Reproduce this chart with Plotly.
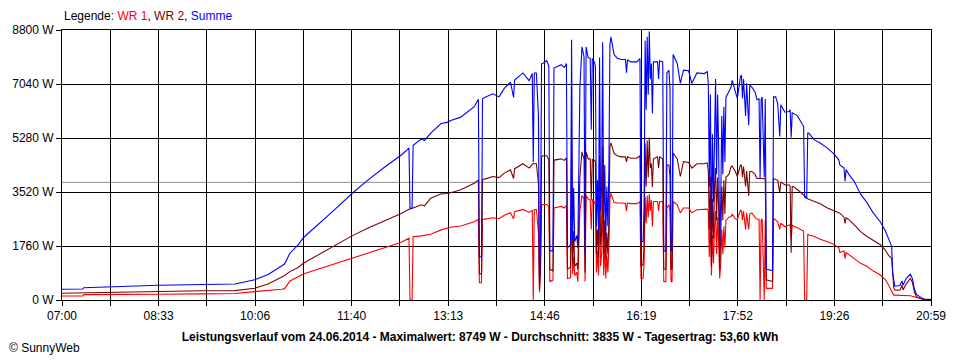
import plotly.graph_objects as go

# ---- data (time, WR 1, WR 2, Summe in W) ----
times = [
    "07:00", "07:20", "07:21", "07:48", "08:33", "09:15", "09:47", "10:06", "10:19", "10:32",
    "10:35", "10:40", "10:48", "10:53", "11:07", "11:23", "11:40", "11:55", "12:11", "12:27",
    "12:35", "12:36", "12:38", "12:39", "12:47", "12:50", "12:56", "13:06", "13:12", "13:16",
    "13:25", "13:38", "13:42", "13:43", "13:45", "13:46", "13:48", "13:56", "14:02", "14:07",
    "14:13", "14:16", "14:17", "14:25", "14:31", "14:34", "14:35", "14:36", "14:38", "14:40",
    "14:41", "14:42", "14:43", "14:44", "14:48", "14:50", "14:51", "14:54", "14:55", "15:02",
    "15:05", "15:07", "15:08", "15:11", "15:12", "15:13", "15:14", "15:15", "15:17", "15:18",
    "15:20", "15:22", "15:24", "15:25", "15:26", "15:28", "15:30", "15:31", "15:32", "15:34",
    "15:35", "15:36", "15:37", "15:38", "15:39", "15:40", "15:41", "15:42", "15:43", "15:44",
    "15:45", "15:46", "15:47", "15:48", "15:49", "15:50", "15:53", "15:56", "16:00", "16:04",
    "16:05", "16:06", "16:09", "16:15", "16:18", "16:19", "16:21", "16:22", "16:23", "16:24",
    "16:25", "16:26", "16:27", "16:28", "16:29", "16:30", "16:31", "16:35", "16:36", "16:37",
    "16:40", "16:41", "16:43", "16:44", "16:46", "16:47", "16:48", "16:49", "16:50", "16:54",
    "16:57", "17:00", "17:05", "17:08", "17:13", "17:20", "17:23", "17:24", "17:25", "17:26",
    "17:27", "17:28", "17:29", "17:30", "17:31", "17:32", "17:33", "17:34", "17:35", "17:36",
    "17:37", "17:38", "17:39", "17:40", "17:41", "17:44", "17:46", "17:47", "17:50", "17:52",
    "17:55", "17:56", "17:57", "17:58", "18:00", "18:01", "18:03", "18:04", "18:06", "18:09",
    "18:11", "18:13", "18:14", "18:15", "18:16", "18:18", "18:19", "18:20", "18:26", "18:27",
    "18:29", "18:31", "18:33", "18:34", "18:38", "18:42", "18:43", "18:44", "18:45", "18:46",
    "18:50", "18:53", "18:56", "18:57", "18:59", "19:00", "19:01", "19:06", "19:12", "19:19",
    "19:25", "19:30", "19:31", "19:35", "19:36", "19:37", "19:40", "19:45", "19:51", "19:57",
    "20:03", "20:10", "20:15", "20:18", "20:21", "20:22", "20:23", "20:24", "20:29", "20:31",
    "20:32", "20:35", "20:39", "20:41", "20:43", "20:45", "20:50", "20:53", "20:59",
]

wr1_w = [
    130, 130, 174, 174, 185, 200, 210, 272, 300, 349,
    370, 620, 760, 849, 1000, 1175, 1360, 1525, 1709, 1872,
    2014, 0, 0, 2060, 2090, 2110, 2144, 2285, 2340, 2380,
    2410, 2550, 2627, 560, 560, 2630, 2637, 2680, 2650, 2760,
    2843, 2640, 2880, 2952, 2855, 2930, 0, 2950, 2950, 2200,
    250, 1000, 3050, 3115, 3115, 3050, 600, 650, 3000, 3050,
    3000, 3080, 700, 720, 3400, 850, 1400, 800, 900, 600,
    2900, 3400, 3300, 600, 3400, 3300, 3250, 2300, 3280, 3200,
    3100, 900, 1600, 800, 3200, 1100, 1500, 3400, 800, 1800,
    700, 1500, 900, 1700, 3300, 3475, 3180, 3160, 3160, 3150,
    2900, 3160, 3140, 3140, 3200, 700, 700, 1200, 3350, 2500,
    3400, 2700, 3450, 2900, 3260, 2400, 3210, 3210, 2900, 3210,
    3200, 600, 600, 3000, 3100, 2900, 600, 600, 3210, 3100,
    2840, 3000, 3000, 2840, 2940, 2950, 2960, 2900, 1400, 2700,
    800, 2100, 1200, 2400, 2900, 1500, 2700, 1900, 700, 1200,
    2300, 1500, 2400, 1700, 2600, 2700, 2720, 2800, 2650, 2610,
    2940, 2900, 2600, 2900, 2300, 2840, 2300, 2800, 2840, 2700,
    2630, 2630, 0, 2600, 2650, 0, 2600, 380, 380, 2660,
    2600, 2550, 2300, 2500, 2395, 2420, 2450, 2000, 2440, 2420,
    2350, 2285, 2250, 0, 0, 2150, 2120, 2080, 1980, 1900,
    1820, 1700, 1550, 1600, 1350, 1550, 1470, 1350, 1195, 1100,
    950, 815, 660, 490, 270, 200, 160, 160, 160, 160,
    160, 160, 140, 120, 100, 80, 40, 10, 5,
]

wr2_w = [
    218, 230, 230, 260, 290, 300, 305, 381, 522, 760,
    800, 925, 1060, 1197, 1469, 1763, 2090, 2340, 2579, 2808,
    2961, 2961, 2980, 3000, 3102, 3070, 3320, 3460, 3470, 3504,
    3590, 3808, 3916, 850, 850, 3930, 3940, 4025, 3990, 4135,
    4243, 3960, 4280, 4440, 4298, 4420, 4450, 4440, 4440, 3800,
    350, 1050, 4650, 4700, 4700, 4570, 1000, 950, 4560, 4600,
    4550, 4630, 1000, 1080, 5080, 1200, 2250, 1100, 1200, 1000,
    4000, 4830, 4600, 900, 4830, 4600, 4600, 3250, 4580, 4560,
    4500, 1500, 2300, 1400, 4700, 1800, 2200, 5000, 1500, 2600,
    1300, 2200, 1500, 2500, 5000, 5120, 4775, 4700, 4665, 4665,
    4500, 4665, 4620, 4620, 4700, 1100, 1150, 1800, 5100, 3700,
    5200, 4000, 5299, 4300, 4450, 3680, 4600, 4665, 4300, 4665,
    4600, 1000, 1000, 4400, 4400, 4000, 1000, 1000, 4790, 4600,
    4025, 4510, 4480, 4300, 4440, 4440, 4470, 4200, 2300, 4000,
    1100, 3300, 2000, 3700, 4300, 2600, 4000, 3000, 1000, 2000,
    3700, 2600, 3900, 2800, 4000, 4100, 4350, 4360, 4200, 4025,
    4400, 4400, 4000, 4350, 3700, 4200, 3400, 4190, 4190, 4100,
    3960, 3960, 3960, 3950, 3970, 3970, 3950, 660, 600, 3960,
    3920, 3900, 3500, 3850, 3750, 3750, 3700, 1540, 3700, 3700,
    3600, 3500, 3430, 3400, 3320, 3300, 3280, 3210, 3140, 3000,
    2915, 2850, 2830, 2700, 2500, 2680, 2610, 2450, 2230, 2080,
    1950, 1800, 1630, 1450, 1360, 700, 400, 330, 320, 480,
    330, 520, 700, 580, 250, 110, 30, 10, 10,
]

summe_w = [
    350, 360, 400, 435, 480, 505, 520, 660, 830, 1110,
    1180, 1525, 1800, 2030, 2449, 2939, 3470, 3900, 4320, 4710,
    4950, 2990, 3000, 5040, 5250, 5200, 5442, 5753, 5790, 5860,
    5960, 6300, 6540, 1410, 1410, 6560, 6600, 6720, 6620, 6895,
    7100, 6600, 7170, 7400, 7150, 7380, 4500, 7400, 7400, 6000,
    600, 2050, 7700, 7710, 7800, 7620, 1600, 1600, 7560, 7670,
    7580, 7710, 1700, 1800, 8480, 2000, 3650, 1900, 2100, 1700,
    6900, 8250, 7930, 1530, 8250, 7900, 7870, 5550, 7870, 7760,
    7600, 2400, 3900, 2200, 7900, 2900, 3700, 8400, 2300, 4400,
    2000, 3700, 2400, 4200, 8300, 8580, 8000, 7880, 7840, 7840,
    7410, 7830, 7760, 7760, 7870, 1900, 1900, 3000, 8450, 6200,
    8580, 6700, 8749, 7200, 7710, 6080, 7760, 7760, 7200, 7800,
    7760, 1600, 1600, 7400, 7490, 6900, 1600, 1600, 8000, 7710,
    7060, 7490, 7470, 7060, 7400, 7380, 7440, 7060, 3700, 6700,
    1800, 5400, 3200, 6100, 7200, 4100, 6700, 4900, 1700, 3200,
    6000, 4100, 6300, 4500, 6600, 6800, 6940, 7160, 6850, 6570,
    7270, 7330, 6570, 7200, 6000, 7060, 5700, 7000, 6940, 6790,
    6530, 6560, 3960, 6530, 6620, 4000, 6550, 1000, 960, 6620,
    6620, 6400, 5330, 6360, 6120, 6140, 6200, 5300, 6100, 6090,
    6000, 5830, 5660, 3350, 3320, 5440, 5440, 5225, 5115, 4950,
    4770, 4570, 4400, 4300, 3870, 4250, 4080, 3860, 3450, 3180,
    2850, 2550, 2250, 2000, 1750, 900, 560, 450, 470, 620,
    480, 700, 840, 700, 350, 180, 70, 20, 20,
]

x_tick_labels = ["07:00", "08:33", "10:06", "11:40", "13:13",
                 "14:46", "16:19", "17:52", "19:26", "20:59"]
y_ticks_w = [0, 1760, 3520, 5280, 7040, 8800]
average_w = 3835
series_names = ["WR 1", "WR 2", "Summe"]
series_colors = ["#FF0000", "#800000", "#0000FF"]
title_text = ("Leistungsverlauf vom 24.06.2014 - Maximalwert: 8749 W - "
              "Durchschnitt: 3835 W - Tagesertrag: 53,60 kWh")

assert len(times) == len(wr1_w) == len(wr2_w) == len(summe_w)


def to_hours(t):
    h, m = t.split(":")
    return int(h) + int(m) / 60.0


x_hours = [to_hours(t) for t in times]
x_start = to_hours(x_tick_labels[0])
x_end = to_hours(x_tick_labels[-1])
n_grid = 2 * (len(x_tick_labels) - 1)
grid_vals = [x_start + i * (x_end - x_start) / n_grid for i in range(n_grid + 1)]
grid_text = [x_tick_labels[i // 2] if i % 2 == 0 else "" for i in range(n_grid + 1)]

FONT = "Liberation Sans, Arial, sans-serif"

fig = go.Figure()
for name, vals, col in zip(series_names, [wr1_w, wr2_w, summe_w], series_colors):
    fig.add_trace(go.Scatter(x=x_hours, y=vals, mode="lines", name=name,
                             line=dict(color=col, width=1.1), hoverinfo="skip"))

axis_common = dict(showgrid=True, gridcolor="#000000", gridwidth=1,
                   ticks="outside", ticklen=5, tickcolor="#000000", tickwidth=1,
                   showline=True, linecolor="#000000", linewidth=1, mirror=True,
                   zeroline=False, tickfont=dict(family=FONT, size=12, color="#000000"))

fig.update_layout(
    width=960, height=360, autosize=False,
    margin=dict(l=60, r=29, t=30, b=60),
    paper_bgcolor="#FFFFFF", plot_bgcolor="#FFFFFF",
    showlegend=False,
    xaxis=dict(range=[x_start, x_end], tickmode="array", tickvals=grid_vals,
               ticktext=grid_text, **axis_common),
    yaxis=dict(range=[0, y_ticks_w[-1]], tickmode="array", tickvals=y_ticks_w,
               ticktext=[f"{v} W" for v in y_ticks_w], **axis_common),
    title=dict(text=f"<b>{title_text}</b>", x=0.5, xref="container", xanchor="center",
               y=1 - 337 / 360, yref="container", yanchor="middle",
               font=dict(family=FONT, size=12, color="#000000")),
)

fig.add_shape(type="line", xref="paper", x0=0, x1=1, yref="y",
              y0=average_w, y1=average_w, line=dict(color="#8C8C8C", width=1),
              layer="below")

legend_html = ("Legende: "
               + ", ".join(f"<span style='color:{c}'>{n}</span>"
                           for n, c in zip(series_names, series_colors)))
fig.add_annotation(text=legend_html, xref="paper", yref="paper", x=0, y=(300 - 16) / 270,
                   xanchor="left", yanchor="middle", showarrow=False,
                   font=dict(family=FONT, size=12, color="#000000"))
fig.add_annotation(text="© SunnyWeb", xref="paper", yref="paper",
                   x=(5 - 60) / 871, y=(300 - 348) / 270,
                   xanchor="left", yanchor="middle", showarrow=False,
                   font=dict(family=FONT, size=12, color="#000000"))

fig.write_html("out.html", config={"displayModeBar": False},
               post_script="document.body.style.margin='0';")
